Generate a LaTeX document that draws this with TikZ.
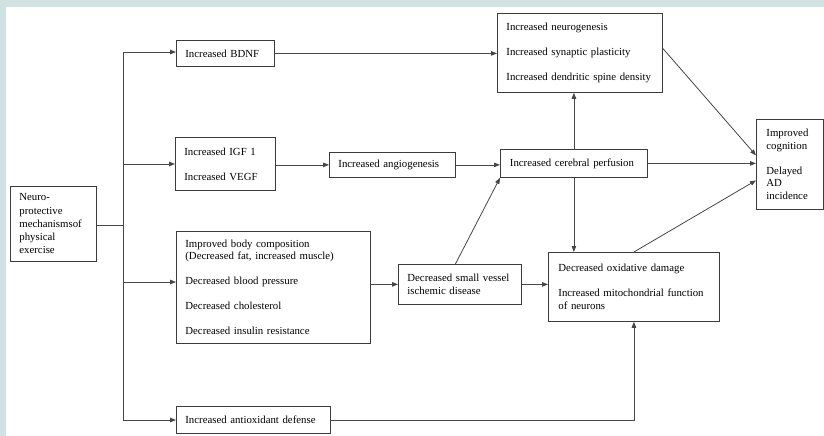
\documentclass[tikz,border=0pt]{standalone}
\usepackage{fontspec}
\setmainfont{Liberation Serif}
\usetikzlibrary{arrows.meta}
\definecolor{bgc}{RGB}{208,226,226}
\definecolor{boxc}{RGB}{60,60,60}
\definecolor{linec}{RGB}{70,70,70}
\hyphenpenalty=10000
\exhyphenpenalty=10000
\tikzset{
  box/.style={draw=boxc, line width=0.8pt, anchor=north west, inner xsep=9pt,
    inner ysep=0pt, align=left, font=\fontsize{10.8}{12.5}\selectfont},
  conn/.style={draw=linec, line width=0.8pt},
  arr/.style={conn, -{Triangle[length=6pt,width=4.5pt]}}
}
\begin{document}
\begin{tikzpicture}[x=1pt,y=-1pt]
\useasboundingbox (0,0) rectangle (824,436);
\fill[bgc] (0,0) rectangle (824,436);
\fill[white] (6,7) rectangle (824,436);

\node[box, text width=68pt, minimum height=75pt, font=\fontsize{10.8}{13.3}\selectfont] (mech) at (10,186)
  {Neuro-\\protective\\mechanismsof\\physical\\exercise};
\node[box, text width=80pt, minimum height=26pt] (bdnf) at (176,40) {Increased BDNF};
\node[box, text width=82pt, minimum height=53pt] (igf) at (175,137) {Increased IGF 1\\[12.5pt]Increased VEGF};
\node[box, text width=108pt, minimum height=25pt] (angio) at (329,152) {Increased angiogenesis};
\node[box, text width=128pt, minimum height=28pt, inner xsep=9.5pt] (perf) at (500,149) {Increased cerebral perfusion};
\node[box, text width=147pt, minimum height=79pt] (neuro) at (497,13)
  {Increased neurogenesis\\[12.5pt]Increased synaptic plasticity\\[12.5pt]Increased dendritic spine density};
\node[box, text width=47pt, minimum height=90pt, inner xsep=10pt] (outc) at (756,119)
  {Improved\\cognition\\[12.5pt]Delayed\\AD\\incidence};
\node[box, text width=176pt, minimum height=112pt] (body) at (176,231)
  {Improved body composition\\(Decreased fat, increased muscle)\\[12.5pt]Decreased blood pressure\\[12.5pt]Decreased cholesterol\\[12.5pt]Decreased insulin resistance};
\node[box, text width=105pt, minimum height=40pt, inner xsep=9pt] (vessel) at (398,264)
  {\makebox[104pt][s]{Decreased small vessel}\\ischemic disease};
\node[box, text width=151pt, minimum height=69pt, inner xsep=10pt] (oxid) at (548,252)
  {Decreased oxidative damage\\[12.5pt]\makebox[151pt][s]{Increased mitochondrial function}\\of neurons};
\node[box, text width=136pt, minimum height=27pt] (anti) at (176,406) {Increased antioxidant defense};

\coordinate (j1) at (123,52);
\coordinate (j2) at (123,164);
\coordinate (j3) at (123,225);
\coordinate (j4) at (123,282);
\coordinate (j5) at (123,420);

\draw[conn] (j1) -- (j5);
\draw[conn] (mech.east |- j3) -- (j3);
\draw[arr] (j1) -- (bdnf.west |- j1);
\draw[arr] (j2) -- (igf.west |- j2);
\draw[arr] (j4) -- (body.west |- j4);
\draw[arr] (j5) -- (anti.west |- j5);

\draw[arr] (bdnf.east) -- (neuro.west |- bdnf.east);
\draw[arr] (igf.east |- angio.west) -- (angio.west);
\draw[arr] (angio.east) -- (perf.west |- angio.east);
\draw[arr] (perf.east) -- (outc.west |- perf.east);
\draw[arr] (perf.north) -- (perf.north |- neuro.south);
\draw[arr] (perf.south) -- (perf.south |- oxid.north);
\draw[arr] ([yshift=4.5pt]neuro.east) -- ([yshift=9pt]outc.west);
\draw[arr] (oxid.north) -- ([yshift=-16pt]outc.west);
\draw[arr] ([xshift=-4.5pt]vessel.north) -- (perf.south west);
\draw[arr] (body.east |- vessel.west) -- (vessel.west);
\draw[arr] (vessel.east) -- (oxid.west |- vessel.east);
\draw[arr] (anti.east) -- (oxid.south |- anti.east) -- (oxid.south);
\end{tikzpicture}
\end{document}
